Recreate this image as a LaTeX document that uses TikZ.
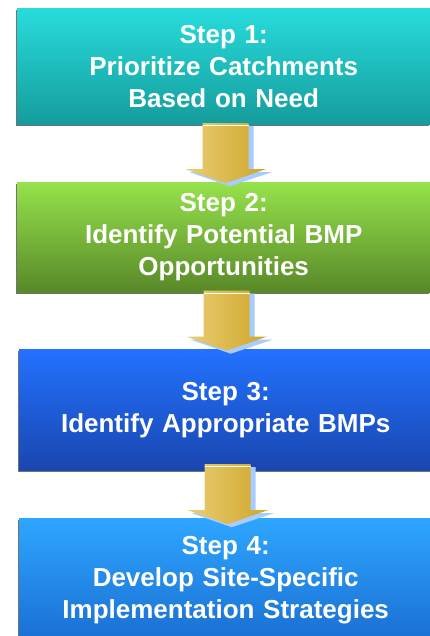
\documentclass[tikz,border=0pt]{standalone}
\usepackage{fontspec}
\setmainfont{Liberation Sans}
\usetikzlibrary{calc,shadows}

\definecolor{tealtop}{HTML}{28DCDC}
\definecolor{tealbot}{HTML}{159C9C}
\definecolor{greentop}{HTML}{96E24C}
\definecolor{greenbot}{HTML}{588828}
\definecolor{bluetop}{HTML}{2272FF}
\definecolor{bluebot}{HTML}{1A46B0}
\definecolor{skytop}{HTML}{2EA6FF}
\definecolor{skybot}{HTML}{1A6ED2}
\definecolor{goldlight}{HTML}{E8CE74}
\definecolor{golddark}{HTML}{D0A62A}
\definecolor{arrowshade}{HTML}{A8CCFF}

\newcommand{\goldarrow}[2]{%
  \coordinate (mid) at ($($(#1.south)!0.5!(#2.north)$)+(2,0)$);
  \begin{scope}[shift={(mid)}]
    \fill[arrowshade] (-18,-27) -- (28,-27) -- (28,19) -- (46,19) -- (4,33) -- (-36,19) -- (-18,19) -- cycle;
    \shade[left color=goldlight, right color=golddark] (-23,-30) -- (23,-30) -- (23,16) -- (40,16) -- (0,30) -- (-40,16) -- (-23,16) -- cycle;
    \draw[white, line width=0.8pt] (-23,-27.5) -- (23,-27.5);
  \end{scope}
}

\begin{document}
\begin{tikzpicture}[x=1pt, y=-1pt,
    stepbox/.style={anchor=north west, minimum width=413pt, text width=405pt,
      align=center, inner sep=0pt, text=white,
      font=\fontsize{26}{32}\selectfont\bfseries,
      drop shadow={shadow xshift=-1.5pt, shadow yshift=-2pt, opacity=0.55, fill=black}}]
    \useasboundingbox (0,0) rectangle (429,636);

    \node[stepbox, minimum height=116pt, top color=tealtop, bottom color=tealbot] (step1) at (17,8) {Step 1:\\Prioritize Catchments\\Based on Need};
    \node[stepbox, minimum height=110pt, top color=greentop, bottom color=greenbot] (step2) at (17,182) {Step 2:\\Identify Potential BMP\\Opportunities};
    \node[stepbox, minimum height=121pt, top color=bluetop, bottom color=bluebot] (step3) at (19,349) {Step 3:\\Identify Appropriate BMPs};
    \node[stepbox, minimum height=124pt, top color=skytop, bottom color=skybot] (step4) at (19,518) {Step 4:\\Develop Site-Specific\\Implementation Strategies};

    \goldarrow{step1}{step2}
    \goldarrow{step2}{step3}
    \goldarrow{step3}{step4}
\end{tikzpicture}
\end{document}
